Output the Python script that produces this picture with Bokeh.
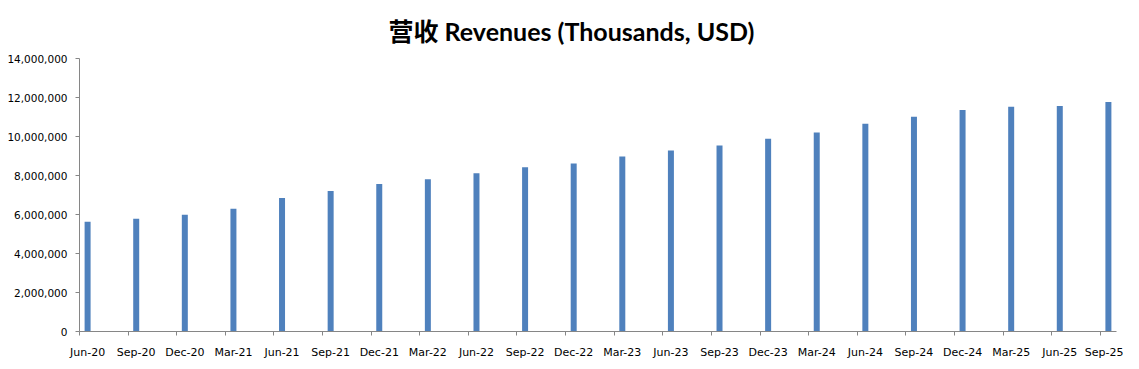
from bokeh.plotting import figure
from bokeh.models import ColumnDataSource, FixedTicker, NumeralTickFormatter, Range1d
from bokeh.embed import file_html
from bokeh.resources import INLINE

# ---- data ----
quarters = ["Jun-20", "Sep-20", "Dec-20", "Mar-21", "Jun-21", "Sep-21", "Dec-21", "Mar-22",
            "Jun-22", "Sep-22", "Dec-22", "Mar-23", "Jun-23", "Sep-23", "Dec-23", "Mar-24",
            "Jun-24", "Sep-24", "Dec-24", "Mar-25", "Jun-25", "Sep-25"]
revenues = [5630000, 5780000, 5990000, 6290000, 6850000, 7200000, 7560000, 7810000,
            8120000, 8420000, 8620000, 8980000, 9280000, 9540000, 9890000, 10200000,
            10650000, 11010000, 11360000, 11520000, 11570000, 11770000]
y_ticks = [0, 2000000, 4000000, 6000000, 8000000, 10000000, 12000000, 14000000]

# date axis in months: each quarter's bar sits in its first month
months_per_q = 3
n_months = len(quarters) * months_per_q - 2  # Jun-20 .. Sep-25
month_idx = [i * months_per_q for i in range(len(quarters))]
bar_x = [m + 0.5 for m in month_idx]

src = ColumnDataSource(dict(x=bar_x, top=revenues, label=quarters))

AXIS_COLOR = "#868686"
FONT = "DejaVu Sans"

p = figure(width=1123, height=361, output_backend="svg", toolbar_location=None,
           x_range=Range1d(0, n_months), y_range=Range1d(0, 14000000),
           min_border_left=79, min_border_right=7, min_border_top=57, min_border_bottom=20)
p.outline_line_color = None
p.xgrid.visible = False
p.ygrid.visible = False

p.vbar(x="x", top="top", width=0.37, bottom=0, source=src,
       fill_color="#4F81BD", line_color=None)

# title
p.title.text = "营收 Revenues (Thousands, USD)"
p.title.align = "left"
p.title.offset = 309
p.title.standoff = 26
p.title.text_line_height = 0.6
p.title.text_font = "Lato, 'Noto Sans CJK SC'"
p.title.text_font_style = "bold"
p.title.text_font_size = "25px"
p.title.text_color = "#000000"

# y axis
p.yaxis.ticker = FixedTicker(ticks=y_ticks)
p.yaxis.formatter = NumeralTickFormatter(format="0,0")
p.yaxis.axis_line_color = AXIS_COLOR
p.yaxis.major_tick_line_color = AXIS_COLOR
p.yaxis.major_tick_in = 0
p.yaxis.major_tick_out = 4
p.yaxis.minor_tick_line_color = None
p.yaxis.major_label_text_font = FONT
p.yaxis.major_label_text_font_size = "10.5px"
p.yaxis.major_label_text_color = "#000000"
p.yaxis.major_label_standoff = 8

# x axis: labels centred on the bars, minor tick marks at quarter boundaries
p.xaxis.ticker = FixedTicker(ticks=bar_x, minor_ticks=month_idx)
p.xaxis.major_label_overrides = {x: q for x, q in zip(bar_x, quarters)}
p.xaxis.axis_line_color = AXIS_COLOR
p.xaxis.major_tick_line_color = None
p.xaxis.major_tick_in = 0
p.xaxis.major_tick_out = 0
p.xaxis.minor_tick_line_color = AXIS_COLOR
p.xaxis.minor_tick_in = 0
p.xaxis.minor_tick_out = 4
p.xaxis.major_label_text_font = FONT
p.xaxis.major_label_text_font_size = "11px"
p.xaxis.major_label_text_color = "#000000"
p.xaxis.major_label_standoff = 10

open("out.html", "w").write(file_html(p, INLINE))
